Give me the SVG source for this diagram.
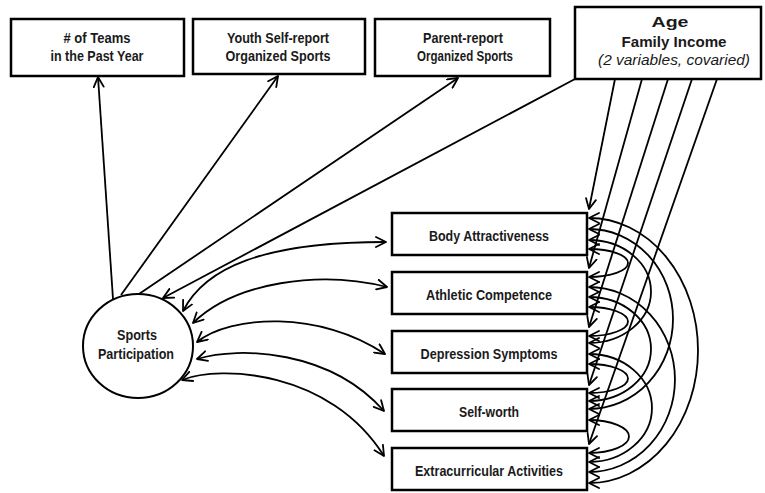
<svg xmlns="http://www.w3.org/2000/svg" width="765" height="493" viewBox="0 0 765 493">
<style>
.box{fill:#fff;stroke:#000;stroke-width:2.5}
.t{font-family:"Liberation Sans",Arial,sans-serif;font-weight:bold;font-size:15px;text-anchor:middle;fill:#1a1a1a}
.ti{font-family:"Liberation Sans",Arial,sans-serif;font-style:italic;font-size:15px;text-anchor:middle;fill:#1a1a1a}
.c{fill:none;stroke:#000;stroke-width:1.8}
.e{marker-end:url(#ah)}
.d{marker-start:url(#ah);marker-end:url(#ah)}
</style>
<defs>
<marker id="ah" viewBox="0 0 12 12" refX="11" refY="6" markerWidth="12" markerHeight="12" markerUnits="userSpaceOnUse" orient="auto-start-reverse">
<path d="M1,1 L11,6 L1,11" fill="none" stroke="#000" stroke-width="1.8" stroke-linejoin="round" stroke-linecap="round"/>
</marker>
</defs>
<rect width="765" height="493" fill="#fff"/>
<g id="connectors">
<path class="c e" d="M113,299 L98,77"/>
<path class="c e" d="M121,295 L278,76"/>
<path class="c e" d="M139,294 L458,78"/>
<path class="c e" d="M575,79 L163,298"/>
<path class="c d" d="M183,311 C205,268 262,242 386,242"/>
<path class="c d" d="M193,323 C235,282 320,270 387,287"/>
<path class="c d" d="M197,342 C230,315 320,310 385,354"/>
<path class="c d" d="M197,359 C240,346 330,350 384,411"/>
<path class="c d" d="M182,380 C220,365 330,370 384,456"/>
<path class="c e" d="M615,79 L589,209"/>
<path class="c e" d="M642,79 L589,268"/>
<path class="c e" d="M668,79 L589,327"/>
<path class="c e" d="M692,79 L589,385"/>
<path class="c e" d="M717,79 L589,444"/>
<path class="c d" d="M589,249 A39,14 0 0 1 589,277"/>
<path class="c d" d="M589,240 A62,51.5 0 0 1 589,343"/>
<path class="c d" d="M589,229 A84,90 0 0 1 589,409"/>
<path class="c d" d="M589,218 A109,132.5 0 0 1 589,483"/>
<path class="c d" d="M589,307 A39,14.5 0 0 1 589,336"/>
<path class="c d" d="M589,297 A62,52 0 0 1 589,401"/>
<path class="c d" d="M589,287 A86,92.5 0 0 1 589,472"/>
<path class="c d" d="M589,364 A39,14.5 0 0 1 589,393"/>
<path class="c d" d="M589,354 A63,54 0 0 1 589,462"/>
<path class="c d" d="M589,420 A40,16.5 0 0 1 589,453"/>
</g>
<g id="teams"><rect class="box" x="11" y="19" width="173" height="57"/><text class="t" x="97" y="43" textLength="67" lengthAdjust="spacingAndGlyphs"># of Teams</text><text class="t" x="97" y="61" textLength="93" lengthAdjust="spacingAndGlyphs">in the Past Year</text></g>
<g id="youth"><rect class="box" x="193" y="19" width="172" height="55"/><text class="t" x="278" y="43" textLength="102" lengthAdjust="spacingAndGlyphs">Youth Self-report</text><text class="t" x="278" y="61" textLength="105" lengthAdjust="spacingAndGlyphs">Organized Sports</text></g>
<g id="parent"><rect class="box" x="375" y="19" width="175" height="57"/><text class="t" x="463" y="43" textLength="80" lengthAdjust="spacingAndGlyphs">Parent-report</text><text class="t" x="465" y="61" textLength="96" lengthAdjust="spacingAndGlyphs">Organized Sports</text></g>
<g id="age"><rect class="box" x="575" y="7" width="186" height="72"/><text class="t" x="670" y="27" textLength="37" lengthAdjust="spacingAndGlyphs">Age</text><text class="t" x="674" y="47" textLength="105" lengthAdjust="spacingAndGlyphs">Family Income</text><text class="ti" x="674" y="65" textLength="152" lengthAdjust="spacingAndGlyphs">(2 variables, covaried)</text></g>
<g id="sports"><ellipse cx="138" cy="346" rx="55" ry="52" fill="#fff" stroke="#000" stroke-width="2"/><text class="t" x="137" y="340" textLength="40" lengthAdjust="spacingAndGlyphs">Sports</text><text class="t" x="136" y="359" textLength="76" lengthAdjust="spacingAndGlyphs">Participation</text></g>
<g id="body"><rect class="box" x="392" y="213" width="195" height="42"/><text class="t" x="489" y="241" textLength="120" lengthAdjust="spacingAndGlyphs">Body Attractiveness</text></g>
<g id="athletic"><rect class="box" x="392" y="272" width="195" height="42"/><text class="t" x="489" y="300" textLength="126" lengthAdjust="spacingAndGlyphs">Athletic Competence</text></g>
<g id="depression"><rect class="box" x="392" y="331" width="195" height="42"/><text class="t" x="489" y="359" textLength="137" lengthAdjust="spacingAndGlyphs">Depression Symptoms</text></g>
<g id="selfworth"><rect class="box" x="392" y="389" width="195" height="42"/><text class="t" x="489" y="417" textLength="60" lengthAdjust="spacingAndGlyphs">Self-worth</text></g>
<g id="extra"><rect class="box" x="392" y="448" width="195" height="42"/><text class="t" x="489" y="476" textLength="148" lengthAdjust="spacingAndGlyphs">Extracurricular Activities</text></g>
</svg>
